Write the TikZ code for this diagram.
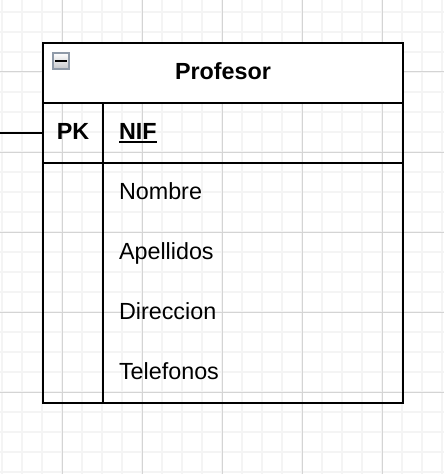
\documentclass[tikz,border=0pt]{standalone}
\usepackage{fontspec}
\setmainfont{Liberation Sans}
\usetikzlibrary{positioning}

\definecolor{gridminor}{RGB}{244,244,244}
\definecolor{gridmajor}{RGB}{212,212,212}
\definecolor{toggleedge}{RGB}{143,154,168}
\definecolor{toggleshade}{RGB}{196,198,202}

\newcommand{\keyunder}[1]{\setbox0\hbox{#1}\rlap{\copy0}\rule[-3pt]{\wd0}{1.5pt}}

\begin{document}
\begin{tikzpicture}[x=0.75pt,y=-0.75pt,
		cell/.style={draw, rectangle, line width=1.5pt, inner sep=0pt, outer sep=0pt,
			font=\fontsize{17.5}{20}\selectfont, text height=12.4pt, text depth=3pt},
		field/.style={rectangle, inner xsep=12pt, inner ysep=0pt, outer sep=0pt,
			minimum height=45pt, text width=201pt, align=left,
			font=\fontsize{17.5}{20}\selectfont, text height=12.4pt, text depth=3pt},
		toggle/.style={draw=toggleedge, line width=1.5pt, minimum size=12pt, inner sep=0pt,
			top color=white, bottom color=toggleshade}]

	\useasboundingbox (0,0) rectangle (444,474);

	% grid
	\foreach \x in {2,22,...,442}
		\draw[gridminor, line width=1pt] (\x,0) -- (\x,474);
	\foreach \y in {12,32,...,472}
		\draw[gridminor, line width=1pt] (0,\y) -- (444,\y);
	\foreach \x in {62,142,...,382}
		\draw[gridmajor, line width=0.75pt] (\x,0) -- (\x,474);
	\foreach \y in {72,152,...,392}
		\draw[gridmajor, line width=0.75pt] (0,\y) -- (444,\y);

	\node[cell, fill=white, minimum width=270pt, minimum height=45pt, anchor=north west,
		font=\fontsize{17.5}{20}\selectfont\bfseries] (title) at (43,43) {Profesor};
	\node[toggle] (fold) at (61,61) {};
	\draw[line width=2.2pt] ([xshift=2.5pt]fold.west) -- ([xshift=-2.5pt]fold.east);

	\node[cell, minimum width=45pt, minimum height=45pt, anchor=north west,
		font=\fontsize{17.5}{20}\selectfont\bfseries] (pk) at (title.south west) {PK};
	\node[field, draw, line width=1.5pt, anchor=north west,
		font=\fontsize{17.5}{20}\selectfont\bfseries] (nif) at (pk.north east) {\keyunder{NIF}};

	\node[cell, minimum width=45pt, minimum height=180pt, anchor=north west] (keycol) at (pk.south west) {};
	\node[cell, minimum width=225pt, minimum height=180pt, anchor=north west] (attrcol) at (keycol.north east) {};

	\node[field, anchor=north west] (nombre) at (attrcol.north west) {Nombre};
	\node[field, below=0pt of nombre] (apellidos) {Apellidos};
	\node[field, below=0pt of apellidos] (direccion) {Direccion};
	\node[field, below=0pt of direccion] (telefonos) {Telefonos};

	\coordinate (lead) at (0,133);
	\draw[line width=1.5pt] (lead) -- (pk.west);
\end{tikzpicture}
\end{document}
